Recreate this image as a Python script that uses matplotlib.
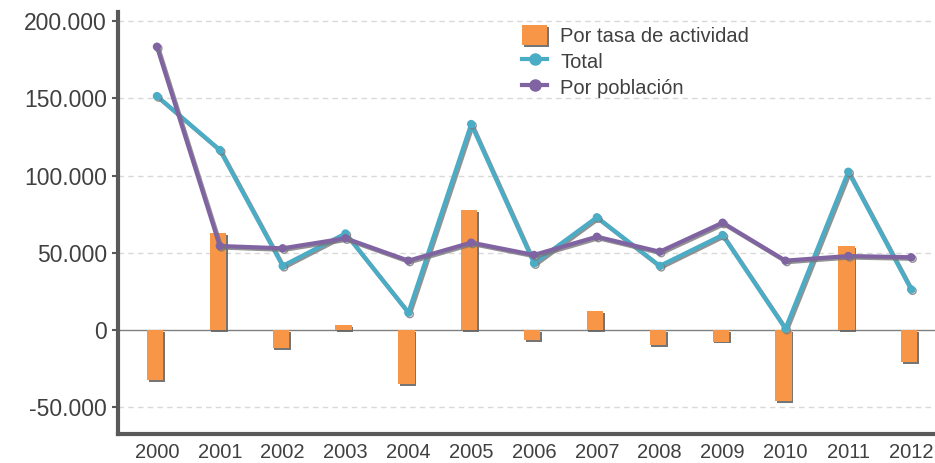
import matplotlib.pyplot as plt
import matplotlib.patheffects as pe
import numpy as np

plt.rcParams["font.family"] = ["Liberation Sans", "DejaVu Sans"]

years = ["2000", "2001", "2002", "2003", "2004", "2005", "2006",
         "2007", "2008", "2009", "2010", "2011", "2012"]
por_tasa = [-32400, 62600, -11900, 3200, -35000, 77700, -6500,
            12300, -9700, -7500, -46000, 54400, -20500]
total = [151500, 116600, 41500, 62500, 11200, 133400, 43200,
         73000, 41500, 61500, 800, 102500, 26300]
por_poblacion = [183500, 54400, 52900, 59400, 44900, 56600, 48600,
                 60400, 50700, 69500, 44900, 47900, 47100]
yticks = [-50000, 0, 50000, 100000, 150000, 200000]

orange = "#F79646"
cyan = "#4BACC6"
purple = "#8064A2"
text_col = "#404040"

fig = plt.figure(figsize=(9.35, 4.63), dpi=100)
ax = fig.add_axes([118 / 935, 29 / 463, 817 / 935, 422 / 463])

x = np.arange(len(years))

# dashed grid + zero line
for t in yticks:
    if t == 0:
        ax.axhline(0, color="#808080", lw=1.0, zorder=1)
    else:
        ax.axhline(t, color="#d9d9d9", lw=1.0, ls=(0, (4, 3)), zorder=0)

bar_shadow = [pe.SimplePatchShadow(offset=(1.2, -1.4), shadow_rgbFace="#666666", alpha=0.9),
              pe.Normal()]
ax.bar(x - 0.03, por_tasa, width=0.26, color=orange, zorder=2,
       path_effects=bar_shadow, label="Por tasa de actividad")

line_shadow = [pe.SimpleLineShadow(offset=(1.1, -1.1), shadow_color="#777777", alpha=0.8),
               pe.Normal()]
ax.plot(x, total, color=cyan, lw=3, marker="o", ms=5, zorder=3,
        path_effects=line_shadow, label="Total")
ax.plot(x, por_poblacion, color=purple, lw=3, marker="o", ms=5, zorder=4,
        path_effects=line_shadow, label="Por población")

ax.set_xlim(-0.62, 12.38)
ax.set_ylim(-67400, 206000)
ax.set_xticks(x)
ax.set_xticklabels(years, fontsize=14.5, color=text_col)
ax.set_yticks(yticks)
ax.set_yticklabels([f"{t:,}".replace(",", ".") for t in yticks], fontsize=16.5, color=text_col)
ax.tick_params(axis="x", length=0, pad=6.5)
ax.tick_params(axis="y", length=4, width=1.5, color="#595959", pad=4)

for s in ["top", "right"]:
    ax.spines[s].set_visible(False)
for s in ["left", "bottom"]:
    ax.spines[s].set_color("#595959")
    ax.spines[s].set_linewidth(3)

handles, labels = ax.get_legend_handles_labels()
order = [2, 0, 1]
leg = ax.legend([handles[i] for i in order], [labels[i] for i in order],
                loc="upper left", bbox_to_anchor=(514 / 935, 1 - 17 / 463),
                bbox_transform=fig.transFigure, frameon=False, fontsize=14.5,
                handlelength=1.25, handleheight=1.15, handletextpad=0.65,
                labelspacing=0.25, borderaxespad=0, labelcolor=text_col)
for h in leg.legend_handles[1:]:
    h.set_markersize(8)
    h.set_path_effects([])

fig.savefig("out.png", dpi=100)
